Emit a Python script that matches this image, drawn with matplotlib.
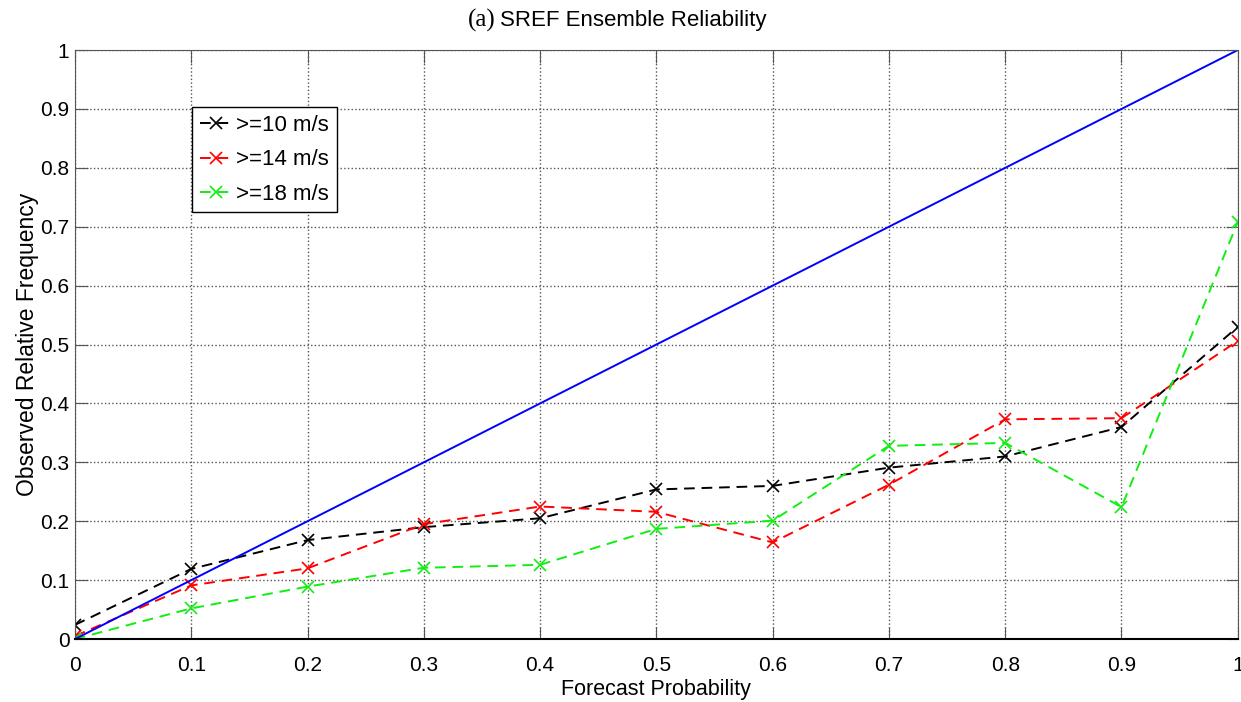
import numpy as np
import matplotlib.pyplot as plt

plt.rcParams['font.family'] = ['Liberation Sans', 'DejaVu Sans']

prob = [0.0, 0.1, 0.2, 0.3, 0.4, 0.5, 0.6, 0.7, 0.8, 0.9, 1.0]
obs_10 = [0.024, 0.119, 0.168, 0.190, 0.205, 0.254, 0.260, 0.291, 0.310, 0.360, 0.530]
obs_14 = [0.005, 0.091, 0.120, 0.195, 0.225, 0.216, 0.164, 0.262, 0.373, 0.375, 0.506]
obs_18 = [0.000, 0.052, 0.089, 0.121, 0.126, 0.187, 0.201, 0.328, 0.333, 0.224, 0.708]
labels = ['>=10 m/s', '>=14 m/s', '>=18 m/s']
colors = ['black', 'red', '#11ee11']
tick_text = ['0', '0.1', '0.2', '0.3', '0.4', '0.5', '0.6', '0.7', '0.8', '0.9', '1']

fig = plt.figure(figsize=(12.41, 7.02), dpi=100)
ax = fig.add_axes([0.0604, 0.0897, 0.937, 0.839])

for y, lab, c in zip([obs_10, obs_14, obs_18], labels, colors):
    ax.plot(prob, y, linestyle='--', color=c, marker='x', markersize=9,
            markeredgewidth=1.2, linewidth=1.4, dashes=(5.5, 3.5), label=lab)
ax.plot([0, 1], [0, 1], color='blue', linewidth=1.4)

ax.set_xlim(0, 1)
ax.set_ylim(0, 1)
ax.set_xticks(np.arange(0, 1.01, 0.1))
ax.set_yticks(np.arange(0, 1.01, 0.1))
ax.set_xticklabels(tick_text)
ax.set_yticklabels(tick_text)
ax.tick_params(direction='in', top=True, right=True, labelsize=15, length=9,
               color='#555555')
ax.tick_params(axis='x', pad=12)
ax.tick_params(axis='y', pad=4)
for side in ['left', 'right', 'top']:
    ax.spines[side].set_color('#555555')
ax.spines['bottom'].set_linewidth(1.5)
ax.grid(True, linestyle=':', color='#555555', linewidth=1)
ax.set_xlabel('Forecast Probability', fontsize=15.5, labelpad=3)
ax.set_ylabel('Observed Relative Frequency', fontsize=16.5, labelpad=1)

leg = ax.legend(loc='upper left', bbox_to_anchor=(0.1006, 0.903), fontsize=16,
                fancybox=False, edgecolor='black', framealpha=1,
                handlelength=1.5, handletextpad=0.15, borderaxespad=0,
                labelspacing=0.6, borderpad=0.35)
leg.get_frame().set_linewidth(1)

fig.text(0.399, 0.971, '(a)', family='Liberation Serif', fontsize=18, ha='right', va='center')
fig.text(0.4025, 0.971, 'SREF Ensemble Reliability', fontsize=16, ha='left', va='center')

fig.savefig('out.png', dpi=100)
